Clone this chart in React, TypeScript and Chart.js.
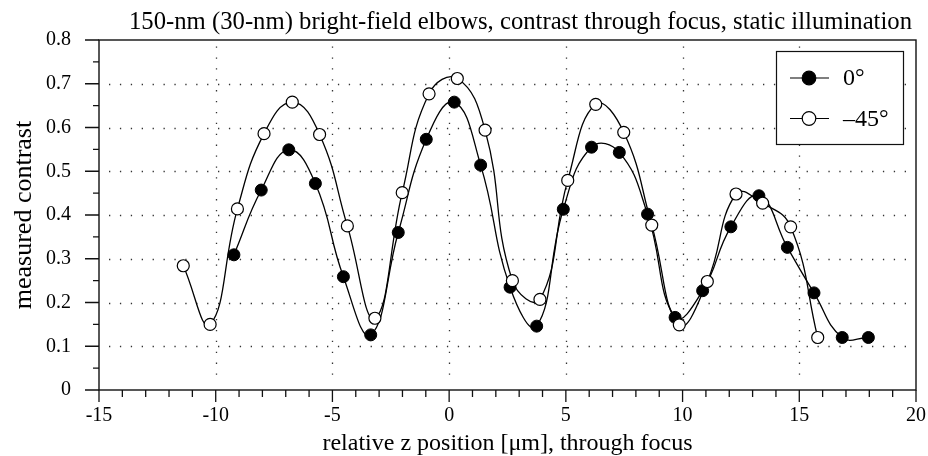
import React, { useEffect, useRef } from 'react';
import { Chart, registerables } from 'chart.js';

Chart.register(...registerables);

// ---- data ----
const zeroX = [-9.22, -8.05, -6.87, -5.73, -4.53, -3.36, -2.18, -0.98, 0.22, 1.35, 2.61, 3.75, 4.89, 6.10, 7.29, 8.50, 9.68, 10.86, 12.07, 13.27, 14.49, 15.63, 16.84, 17.96];
const zeroY = [0.309, 0.457, 0.549, 0.472, 0.259, 0.126, 0.360, 0.573, 0.658, 0.514, 0.235, 0.146, 0.413, 0.555, 0.543, 0.402, 0.166, 0.227, 0.373, 0.444, 0.326, 0.222, 0.120, 0.120];
const minusX = [-11.39, -10.24, -9.07, -7.93, -6.72, -5.55, -4.36, -3.18, -2.01, -0.86, 0.35, 1.54, 2.71, 3.89, 5.08, 6.28, 7.48, 8.68, 9.86, 11.06, 12.29, 13.43, 14.63, 15.79];
const minusY = [0.284, 0.150, 0.414, 0.586, 0.658, 0.584, 0.375, 0.164, 0.451, 0.677, 0.712, 0.594, 0.250, 0.207, 0.479, 0.653, 0.589, 0.377, 0.149, 0.248, 0.448, 0.427, 0.373, 0.120];

const seriesLabels = ['0°', '–45°'];
const xGridValues = [-10, -5, 0, 5, 10, 15];
const yGridValues = [0.1, 0.2, 0.3, 0.4, 0.5, 0.6, 0.7];
const xMinorStep = 1;
const yMinorStep = 0.05;

const titleText = '150-nm (30-nm) bright-field elbows, contrast through focus, static illumination';
const xTitle = 'relative z position [μm], through focus';
const yTitle = 'measured contrast';

const FONT = '"Liberation Serif", "Times New Roman", serif';

const decorPlugin = {
  id: 'decor',
  beforeDatasetsDraw(chart: any) {
    const { ctx, chartArea: a, scales } = chart;
    const xs = scales.x;
    const ys = scales.y;
    ctx.save();
    // dotted grid
    ctx.strokeStyle = '#333';
    ctx.lineWidth = 1.3;
    ctx.setLineDash([1.3, 9.6]);
    for (const v of yGridValues) {
      const py = Math.round(ys.getPixelForValue(v)) + 0.5;
      ctx.beginPath();
      ctx.moveTo(a.left + 10, py);
      ctx.lineTo(a.right - 3, py);
      ctx.stroke();
    }
    for (const v of xGridValues) {
      const px = Math.round(xs.getPixelForValue(v)) + 0.5;
      ctx.beginPath();
      ctx.moveTo(px, a.top + 6.5);
      ctx.lineTo(px, a.bottom - 9);
      ctx.stroke();
    }
    ctx.setLineDash([]);
    // frame
    ctx.strokeStyle = '#111';
    ctx.lineWidth = 1.4;
    ctx.strokeRect(a.left, a.top, a.right - a.left, a.bottom - a.top);
    // ticks
    ctx.lineWidth = 1.3;
    ctx.beginPath();
    const nx = Math.round((xs.max - xs.min) / xMinorStep);
    for (let i = 0; i <= nx; i++) {
      const v = xs.min + i * xMinorStep;
      const px = xs.getPixelForValue(v);
      const len = Math.abs(v % 5) < 1e-9 ? 12 : 7;
      ctx.moveTo(px, a.bottom);
      ctx.lineTo(px, a.bottom + len);
    }
    const ny = Math.round((ys.max - ys.min) / yMinorStep);
    for (let i = 0; i <= ny; i++) {
      const v = ys.min + i * yMinorStep;
      const py = ys.getPixelForValue(v);
      const len = i % 2 === 0 ? 14 : 6;
      ctx.moveTo(a.left, py);
      ctx.lineTo(a.left - len, py);
    }
    ctx.stroke();
    ctx.restore();
  },
  afterDraw(chart: any) {
    const { ctx, chartArea: a } = chart;
    ctx.save();
    // chart title
    ctx.fillStyle = '#000';
    ctx.font = `24.7px ${FONT}`;
    ctx.textAlign = 'center';
    ctx.textBaseline = 'alphabetic';
    ctx.fillText(titleText, 520.5, 29);
    // legend box
    const bx = a.right - 140;
    const by = a.top + 11;
    const bw = 127;
    const bh = 93;
    ctx.fillStyle = '#fff';
    ctx.fillRect(bx, by, bw, bh);
    ctx.strokeStyle = '#111';
    ctx.lineWidth = 1.2;
    ctx.strokeRect(bx + 0.5, by + 0.5, bw, bh);
    chart.data.datasets.slice().sort((p: any, q: any) => p.legendIndex - q.legendIndex).forEach((ds: any, i: number) => {
      const cy = by + 27 + i * 40.5;
      ctx.strokeStyle = '#000';
      ctx.lineWidth = 1.2;
      ctx.beginPath();
      ctx.moveTo(bx + 14, cy);
      ctx.lineTo(bx + 53, cy);
      ctx.stroke();
      ctx.beginPath();
      ctx.arc(bx + 33, cy, 6.8, 0, Math.PI * 2);
      ctx.fillStyle = ds.pointBackgroundColor;
      ctx.fill();
      ctx.stroke();
      ctx.fillStyle = '#000';
      ctx.font = `24px ${FONT}`;
      ctx.textBaseline = 'middle';
      ctx.textAlign = 'left';
      ctx.fillText(ds.label, bx + 67, cy + 1);
    });
    ctx.restore();
  },
};

export default function App() {
  const ref = useRef<HTMLCanvasElement | null>(null);
  useEffect(() => {
    const canvas = ref.current;
    if (!canvas) return;
    const chart = new Chart(canvas, {
      type: 'line',
      data: {
        datasets: [
          {
            label: seriesLabels[1],
            legendIndex: 1,
            data: minusX.map((x, i) => ({ x, y: minusY[i] })),
            borderColor: '#000',
            borderWidth: 1.3,
            backgroundColor: '#fff',
            pointBackgroundColor: '#fff',
            pointBorderColor: '#000',
            pointBorderWidth: 1.2,
            pointRadius: 6,
            tension: 0.45,
            order: 0,
          } as any,
          {
            label: seriesLabels[0],
            legendIndex: 0,
            data: zeroX.map((x, i) => ({ x, y: zeroY[i] })),
            borderColor: '#000',
            borderWidth: 1.3,
            backgroundColor: '#000',
            pointBackgroundColor: '#000',
            pointBorderColor: '#000',
            pointBorderWidth: 1,
            pointRadius: 6,
            tension: 0.45,
            order: 1,
          } as any,
        ],
      },
      options: {
        responsive: false,
        animation: false,
        layout: { padding: { left: 0, right: 0, top: 40, bottom: 0 } },
        plugins: {
          legend: { display: false },
          tooltip: { enabled: false },
          title: { display: false },
        },
        scales: {
          x: {
            type: 'linear',
            min: -15,
            max: 20,
            grid: { display: false, drawTicks: false },
            border: { display: false },
            ticks: {
              stepSize: 5,
              padding: 14,
              color: '#000',
              font: { family: FONT, size: 20 },
              callback: (v: any) => String(v),
            },
            title: {
              display: true,
              text: xTitle,
              color: '#000',
              font: { family: FONT, size: 24, lineHeight: 1.0 },
              padding: { top: 0, bottom: 0 },
            },
            afterFit: (s: any) => {
              s.height = 66;
              s.paddingLeft = 0;
              s.paddingRight = 12;
            },
          },
          y: {
            type: 'linear',
            min: 0,
            max: 0.8,
            grid: { display: false, drawTicks: false },
            border: { display: false },
            ticks: {
              stepSize: 0.1,
              padding: 28,
              color: '#000',
              font: { family: FONT, size: 20 },
              callback: (v: any) => (Math.abs(v) < 1e-9 ? '0' : Number(v).toFixed(1)),
            },
            title: {
              display: true,
              text: yTitle,
              color: '#000',
              font: { family: FONT, size: 26, lineHeight: 1.2 },
              padding: { top: 8.5, bottom: 0 },
            },
            afterFit: (s: any) => {
              s.width = 99;
              s.paddingTop = 0;
              s.paddingBottom = 0;
            },
          },
        },
      },
      plugins: [decorPlugin],
    });
    return () => chart.destroy();
  }, []);
  return (
    <div style={{ position: 'fixed', left: 0, top: 0, width: 928, height: 456, background: '#fff' }}>
      <canvas ref={ref} width={928} height={456} style={{ display: 'block' }} />
    </div>
  );
}
